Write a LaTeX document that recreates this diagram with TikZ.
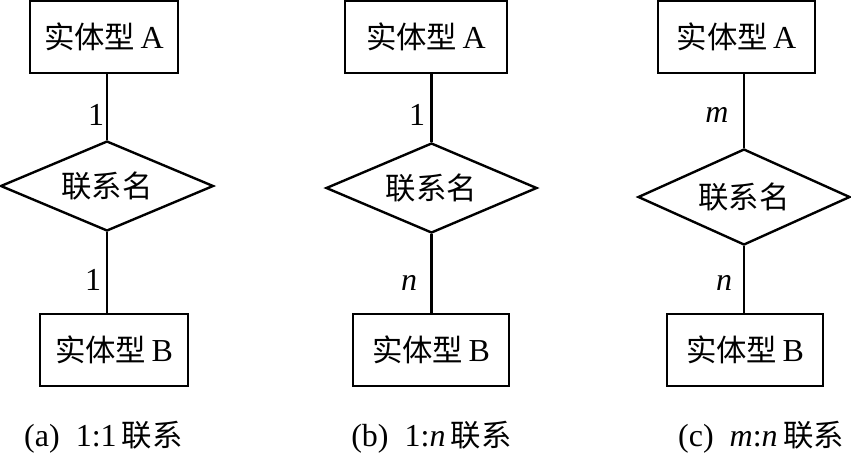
\documentclass[tikz,border=0pt]{standalone}
\usepackage{fontspec}
\setmainfont{Liberation Serif}
\newfontfamily\cjk{Noto Sans CJK SC}[Scale=0.95]
\usetikzlibrary{shapes.geometric}

\begin{document}
\begin{tikzpicture}[
        x=0.5pt, y=-0.5pt,
        line width=1.2pt,
        font=\fontsize{16}{19}\selectfont,
        entity/.style={draw, rectangle, minimum height=36pt, inner sep=0pt},
        relation/.style={draw, diamond, aspect=2.4, inner sep=0pt, minimum height=45pt},
        card/.style={inner sep=0pt},
        caption/.style={inner sep=0pt, font=\fontsize{16}{19}\selectfont},
    ]
    \useasboundingbox (0,0) rectangle (851,457);

        % Draw panel (a): one to one
        \node[entity, minimum width=74pt] (A-a) at (104,37) {{\cjk 实体型}\,A};
        \node[relation, minimum width=106.5pt] (R-a) at (107,186) {\cjk 联系名};
        \node[entity, minimum width=74pt] (B-a) at (114,350) {{\cjk 实体型}\,B};
        \draw (R-a.north) -- (R-a.north |- A-a.south);
        \draw (R-a.south) -- (R-a.south |- B-a.north);
        \node[card] (ca-A) at (96,115) {1};
        \node[card] (ca-B) at (93,280) {1};

        % Draw panel (b): one to many
        \node[entity, minimum width=81pt] (A-b) at (426,37) {{\cjk 实体型}\,A};
        \node[relation, minimum width=105.5pt] (R-b) at (431.5,188) {\cjk 联系名};
        \node[entity, minimum width=78pt] (B-b) at (431,350) {{\cjk 实体型}\,B};
        \draw (R-b.north) -- (R-b.north |- A-b.south);
        \draw (R-b.south) -- (R-b.south |- B-b.north);
        \node[card] (cb-A) at (417,115) {1};
        \node[card] (cb-B) at (409,283) {\textit{n}};

        % Draw panel (c): many to many
        \node[entity, minimum width=78.5pt] (A-c) at (736.5,37) {{\cjk 实体型}\,A};
        \node[relation, minimum width=106pt, minimum height=48pt] (R-c) at (744,197) {\cjk 联系名};
        \node[entity, minimum width=78pt] (B-c) at (745,350) {{\cjk 实体型}\,B};
        \draw (R-c.north) -- (R-c.north |- A-c.south);
        \draw (R-c.south) -- (R-c.south |- B-c.north);
        \node[card] (cc-A) at (717,115) {\textit{m}};
        \node[card] (cc-B) at (724,283) {\textit{n}};

        % Captions under the panels
        \foreach \name / \x / \txt in {a/103.5/{(a)\enspace 1:1\,{\cjk 联系}},
                                       b/431.5/{(b)\enspace 1:\textit{n}\,{\cjk 联系}},
                                       c/761/{(c)\enspace \textit{m}:\textit{n}\,{\cjk 联系}}}
            \node[caption] (cap-\name) at (\x,437) {\txt};
\end{tikzpicture}
\end{document}
